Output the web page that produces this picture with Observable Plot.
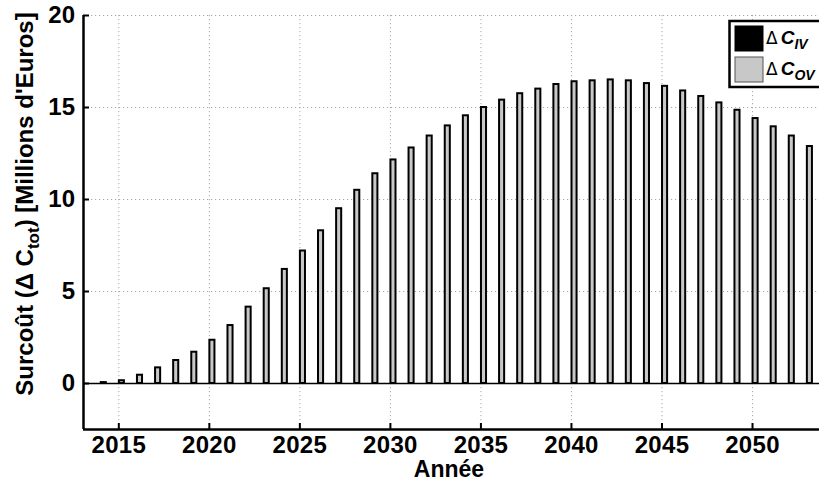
<!DOCTYPE html>
<html>
<head>
<meta charset="utf-8">
<script src="https://cdn.jsdelivr.net/npm/d3@7"></script>
<script src="https://cdn.jsdelivr.net/npm/@observablehq/plot@0.6"></script>
<style>
  html, body { margin: 0; padding: 0; background: #fff; }
  #chart svg { display: block; }
</style>
</head>
<body>
<div id="chart"></div>
<script>
const years = [2014,2015,2016,2017,2018,2019,2020,2021,2022,2023,2024,2025,2026,2027,2028,2029,2030,2031,2032,2033,
               2034,2035,2036,2037,2038,2039,2040,2041,2042,2043,2044,2045,2046,2047,2048,2049,2050,2051,2052,2053];
const deltaCOV = [0.05,0.15,0.45,0.85,1.25,1.7,2.35,3.15,4.15,5.15,6.2,7.2,8.3,9.5,10.5,11.4,12.15,12.8,13.45,14.0,
                  14.55,15.0,15.4,15.75,16.0,16.25,16.4,16.45,16.5,16.45,16.3,16.15,15.9,15.6,15.25,14.85,14.4,13.95,13.45,12.88];
const deltaCIV = [0,0,0,0,0,0,0,0,0,0,0,0,0,0,0,0,0,0,0,0,0,0,0,0,0,0,0,0,0,0,0,0,0,0,0,0,0,0,0,0];
const xTicks = [2015,2020,2025,2030,2035,2040,2045,2050];
const yTicks = [0,5,10,15,20];
const yGrid = [5,10,15,20];
const xDomain = [2013.05, 2053.7];
const yDomain = [-2.5, 20];
const seriesNames = ["IV", "OV"];
const seriesColors = ["#000000", "#c8c8c8"];

const data = years.map((y, i) => ({year: y, iv: deltaCIV[i], ov: deltaCOV[i]}));
const font = "'Liberation Sans', Arial, Helvetica, sans-serif";
const pxPerYear = (819 - 83) / (xDomain[1] - xDomain[0]);
const pxPerUnit = (429 - 15) / (yDomain[1] - yDomain[0]);
const tickLenX = 6 / pxPerYear;
const tickLenY = 6 / pxPerUnit;

const chart = Plot.plot({
  width: 819,
  height: 484,
  marginLeft: 83,
  marginRight: 0,
  marginTop: 15,
  marginBottom: 55,
  style: {fontFamily: font, background: "#fff"},
  x: {type: "linear", domain: xDomain},
  y: {domain: yDomain},
  marks: [
    Plot.ruleX(xTicks, {x: d => d, stroke: "#a8a8a8", strokeWidth: 1, strokeDasharray: "1.2,2.8"}),
    Plot.ruleY(yGrid, {y: d => d, stroke: "#a8a8a8", strokeWidth: 1, strokeDasharray: "1.2,2.8"}),
    Plot.rectY(data, {x1: d => d.year + 0.03, x2: d => d.year + 0.31, y1: 0, y2: "ov",
      fill: seriesColors[1], stroke: "#000", strokeWidth: 2}),
    Plot.rectY(data, {x1: d => d.year - 0.31, x2: d => d.year - 0.03, y1: 0, y2: "iv",
      fill: seriesColors[0], stroke: "#000", strokeWidth: 2}),
    Plot.ruleY([0], {stroke: "#000", strokeWidth: 1.5}),
    Plot.ruleX(xTicks, {x: d => d, y1: yDomain[0], y2: yDomain[0] + tickLenY, stroke: "#000", strokeWidth: 2}),
    Plot.ruleY(yTicks, {y: d => d, x1: xDomain[0], x2: xDomain[0] + tickLenX, stroke: "#000", strokeWidth: 2}),
    Plot.ruleX([xDomain[0]], {stroke: "#000", strokeWidth: 2.5}),
    Plot.ruleY([yDomain[0]], {stroke: "#000", strokeWidth: 2.5}),
    Plot.axisX({ticks: xTicks, tickSize: 0, tickPadding: 6, tickFormat: d => String(d), label: null,
      fontSize: 24, fontWeight: "bold", fill: "#000"}),
    Plot.axisY({ticks: yTicks, tickSize: 0, tickPadding: 8, label: null,
      fontSize: 24, fontWeight: "bold", fill: "#000"})
  ]
});

document.getElementById("chart").appendChild(chart);

const svg = d3.select(chart);
svg.selectAll("g[aria-label='x-axis tick label'], g[aria-label='y-axis tick label']")
  .style("font-size", "24px").style("font-weight", "bold");
svg.selectAll("g[aria-label='x-axis tick label'] text, g[aria-label='y-axis tick label'] text")
  .style("font-size", "24px").style("font-weight", "bold").style("letter-spacing", "0.3px");

svg.append("text")
  .attr("x", 449).attr("y", 477)
  .attr("text-anchor", "middle")
  .attr("font-family", font).attr("font-weight", "bold").attr("font-size", 23)
  .text("Année");

const yt = svg.append("text")
  .attr("transform", "translate(33,204) rotate(-90)")
  .attr("text-anchor", "middle")
  .attr("font-family", font).attr("font-weight", "bold").attr("font-size", 24);
yt.append("tspan").text("Surcoût (Δ C");
yt.append("tspan").attr("dy", 6).attr("font-size", 17).text("tot");
yt.append("tspan").attr("dy", -6).text(") [Millions d'Euros]");

const lg = svg.append("g");
lg.append("rect").attr("x", 729.5).attr("y", 21).attr("width", 100).attr("height", 66)
  .attr("fill", "#fff").attr("stroke", "#000").attr("stroke-width", 2.5);
seriesNames.forEach((name, i) => {
  const y0 = 26 + i * 31;
  lg.append("rect").attr("x", 735).attr("y", y0).attr("width", 28).attr("height", 25)
    .attr("fill", seriesColors[i]).attr("stroke", i === 0 ? "#000" : "#555").attr("stroke-width", 1);
  const t = lg.append("text").attr("x", 766).attr("y", y0 + 18)
    .attr("text-anchor", "start")
    .attr("font-family", font).attr("font-size", 19);
  t.append("tspan").attr("font-family", "'DejaVu Sans', sans-serif").attr("font-size", 17).text("Δ");
  t.append("tspan").attr("dx", 3).attr("font-weight", "bold").attr("font-style", "italic").text("C");
  t.append("tspan").attr("font-weight", "bold").attr("font-style", "italic")
    .attr("font-size", 14).attr("dy", 5).text(name);
});
</script>
</body>
</html>
